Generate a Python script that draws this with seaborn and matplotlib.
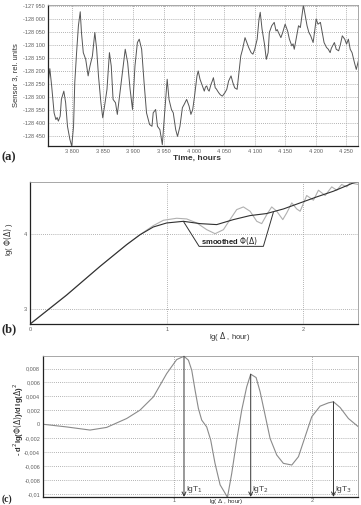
import matplotlib
matplotlib.use('Agg')
import matplotlib.pyplot as plt
import matplotlib.ticker as mticker
import seaborn as sns
import pandas as pd

# (a) sensor signal
hours = [3759, 3763, 3766, 3770, 3773, 3775, 3777, 3780, 3782, 3786, 3789, 3792, 3796, 3799,
         3802, 3804, 3807, 3810, 3813, 3815, 3818, 3822, 3826, 3829, 3833, 3837, 3840,
         3843, 3847, 3850, 3853, 3857, 3861, 3864, 3867, 3871, 3874, 3877, 3881, 3887,
         3891, 3895, 3899, 3903, 3907, 3910, 3914, 3918, 3922, 3927, 3931, 3933, 3937,
         3940, 3944, 3948, 3951, 3954, 3956, 3959, 3963, 3966, 3970, 3973, 3977, 3981,
         3984, 3988, 3992, 3995, 3998, 4001, 4005, 4007, 4010, 4013, 4015, 4017, 4019,
         4021, 4023, 4025, 4028, 4030, 4032, 4035, 4037, 4039, 4041, 4043, 4045, 4047,
         4049, 4051, 4054, 4057, 4061, 4064, 4067, 4071, 4074, 4077, 4080, 4084, 4087,
         4090, 4094, 4097, 4100, 4104, 4107, 4109, 4112, 4116, 4119, 4122, 4124, 4128,
         4132, 4135, 4137, 4139, 4143, 4146, 4150, 4154, 4157, 4161, 4163, 4165, 4168,
         4172, 4175, 4178, 4180, 4183, 4186, 4189, 4192, 4196, 4199, 4201, 4204, 4208,
         4211, 4214, 4218, 4221, 4224, 4226, 4228, 4231, 4234, 4238, 4241, 4244, 4248,
         4251, 4254, 4257, 4260, 4264, 4267, 4271]
sensor = [-128265, -128191, -128258, -128362, -128388, -128380, -128394, -128375, -128310,
          -128278, -128323, -128414, -128465, -128491, -128414, -128245, -128129, -128025,
          -127971, -128051, -128129, -128155, -128219, -128181, -128142, -128051, -128116,
          -128219, -128323, -128381, -128336, -128271, -128129, -128181, -128310, -128323,
          -128368, -128310, -128232, -128116, -128168, -128271, -128349, -128181, -128090,
          -128077, -128116, -128245, -128362, -128407, -128414, -128362, -128349, -128414,
          -128427, -128485, -128388, -128297, -128232, -128310, -128349, -128362, -128427,
          -128453, -128414, -128342, -128329, -128310, -128336, -128368, -128349, -128297,
          -128219, -128200, -128232, -128252, -128265, -128278, -128262, -128258, -128272,
          -128278, -128252, -128240, -128226, -128265, -128270, -128278, -128285, -128291,
          -128295, -128297, -128290, -128284, -128271, -128239, -128219, -128245, -128265,
          -128271, -128207, -128142, -128116, -128071, -128090, -128109, -128129, -128135,
          -128116, -128077, -127999, -127973, -128038, -128096, -128155, -128129, -128051,
          -128025, -128012, -128045, -128040, -128051, -128071, -128051, -128019, -128045,
          -128077, -128103, -128095, -128116, -128077, -128025, -128032, -127980, -127945,
          -127986, -128025, -128051, -128064, -128090, -128038, -127999, -128019, -128012,
          -128051, -128090, -128109, -128116, -128129, -128112, -128103, -128090, -128116,
          -128122, -128096, -128064, -128077, -128096, -128077, -128116, -128129, -128168,
          -128194, -128155]

# (b) lg(Phi(Delta)) raw and smoothed
lg_delta_raw = [0.0, 0.268, 0.512, 0.707, 0.805, 0.902, 0.976, 1.073, 1.146, 1.22, 1.293,
                1.354, 1.415, 1.463, 1.512, 1.561, 1.61, 1.659, 1.695, 1.732, 1.768, 1.805,
                1.849, 1.878, 1.915, 1.951, 1.976, 2.024, 2.073, 2.11, 2.159, 2.207, 2.244,
                2.28, 2.317, 2.341, 2.402]
lg_phi_raw = [2.794, 3.184, 3.565, 3.857, 3.991, 4.112, 4.184, 4.211, 4.202, 4.148, 4.058,
              4.004, 4.058, 4.193, 4.327, 4.363, 4.305, 4.170, 4.139, 4.260, 4.363, 4.305,
              4.193, 4.283, 4.417, 4.336, 4.305, 4.516, 4.453, 4.587, 4.516, 4.632, 4.587,
              4.664, 4.632, 4.686, 4.664]
lg_delta_sm = [0.0, 0.268, 0.512, 0.707, 0.805, 0.902, 1.0, 1.122, 1.244, 1.366, 1.488,
               1.61, 1.73, 1.854, 1.976, 2.098, 2.22, 2.366, 2.402]
lg_phi_sm = [2.79, 3.18, 3.565, 3.857, 3.99, 4.094, 4.148, 4.17, 4.139, 4.126, 4.193,
             4.247, 4.274, 4.336, 4.417, 4.498, 4.574, 4.686, 4.70]

# (c) second derivative
lg_delta_c = [0.055, 0.224, 0.393, 0.513, 0.658, 0.754, 0.851, 0.947, 1.019, 1.072, 1.104,
              1.128, 1.152, 1.176, 1.2, 1.236, 1.265, 1.296, 1.333, 1.369, 1.386, 1.417,
              1.453, 1.489, 1.525, 1.554, 1.593, 1.622, 1.658, 1.694, 1.742, 1.79, 1.851,
              1.899, 1.947, 1.995, 2.055, 2.116, 2.152, 2.2, 2.26, 2.333]
d2 = [0.0, -0.00038, -0.00083, -0.00045, 0.00083, 0.00203, 0.00394, 0.00728, 0.00929,
      0.00977, 0.0092, 0.00776, 0.0049, 0.00227, 0.0006, -0.00038, -0.00227, -0.0056,
      -0.0087, -0.0099, -0.0105, -0.00704, -0.00227, 0.00203, 0.00537, 0.00719, 0.00671,
      0.00466, 0.00132, -0.00203, -0.00441, -0.00561, -0.00585, -0.00465, -0.00179,
      0.00108, 0.0026, 0.00308, 0.00323, 0.00241, 0.00083, -0.00038]
lgT = [1.072, 1.554, 2.152]
lgT_peak = [0.00977, 0.00719, 0.00323]
lgT_labels = [r'lgT$_1$', r'lgT$_2$', r'lgT$_3$']
c_yticks = [0.008, 0.006, 0.004, 0.002, 0, -0.002, -0.004, -0.006, -0.008, -0.01]
c_yticklabels = ['0,008', '0,006', '0,004', '0,002', '0', '-0,002', '-0,004', '-0,006',
                 '-0,008', '-0,01']

sns.set_style('white')
plt.rcParams['font.family'] = ['Liberation Sans', 'DejaVu Sans']
plt.rcParams['mathtext.fontset'] = 'dejavusans'

fig = plt.figure(figsize=(3.61, 5.05), dpi=100)
ax_a = fig.add_axes([0.133, 0.711, 0.859, 0.279])
ax_b = fig.add_axes([0.083, 0.358, 0.909, 0.282])
ax_c = fig.add_axes([0.119, 0.016, 0.873, 0.279])

grid_kw = dict(color='#9a9a9a', linewidth=0.6, linestyle=(0, (1, 1.5)))
tick_gray = '#606060'


def frame(ax):
    for s in ['left', 'bottom']:
        ax.spines[s].set_color('#222222')
        ax.spines[s].set_linewidth(0.9)
    for s in ['top', 'right']:
        ax.spines[s].set_color('#999999')
        ax.spines[s].set_linewidth(0.6)
    ax.tick_params(length=0, labelcolor=tick_gray, labelsize=4, pad=2)
    ax.grid(True, **grid_kw)
    ax.set_axisbelow(True)


# (a)
sns.lineplot(x=hours, y=sensor, ax=ax_a, color='#555555', linewidth=0.7)
ax_a.set_xlim(3760, 4270)
ax_a.set_ylim(-128490, -127945)
ax_a.xaxis.set_major_locator(mticker.MultipleLocator(50))
ax_a.yaxis.set_major_locator(mticker.MultipleLocator(50))
sp = mticker.FuncFormatter(lambda v, p: f'{v:,.0f}'.replace(',', ' '))
ax_a.xaxis.set_major_formatter(sp)
ax_a.yaxis.set_major_formatter(sp)
frame(ax_a)
ax_a.set_xticks(list(range(3800, 4251, 50)))
ax_a.set_xlabel('Time, hours', fontsize=6, fontweight='bold', color='#333333')
ax_a.xaxis.set_label_coords(0.48, -0.06)
ax_a.set_ylabel('Sensor 3, rel. units', fontsize=5.5, color='#333333')
ax_a.yaxis.set_label_coords(-0.095, 0.5)

# (b)
sns.lineplot(x=lg_delta_raw, y=lg_phi_raw, ax=ax_b, color='#b0b0b0', linewidth=0.8)
sns.lineplot(x=lg_delta_sm, y=lg_phi_sm, ax=ax_b, color='#303030', linewidth=0.8)
ax_b.set_xlim(0, 2.4)
ax_b.set_ylim(2.79, 4.70)
ax_b.set_xticks([0, 1, 2])
ax_b.set_yticks([3, 4])
frame(ax_b)
ax_b.xaxis.set_minor_locator(mticker.MultipleLocator(0.25))
ax_b.tick_params(axis='x', which='minor', length=1.5, color='#666666', direction='in')
ax_b.set_xlabel(r'lg( $\Delta$ , hour)', fontsize=5.5, color='#333333')
ax_b.xaxis.set_label_coords(0.61, -0.04)
ax_b.set_ylabel(r'lg( $\Phi(\Delta)$ )', fontsize=5.5, color='#333333')
ax_b.yaxis.set_label_coords(-0.045, 0.6)
ax_b.plot([1.122, 1.237, 1.707, 1.78], [4.17, 3.834, 3.834, 4.29], color='#333333',
          linewidth=0.7)
ax_b.text(1.463, 3.9, r'smoothed $\Phi(\Delta)$', fontsize=5.5, fontweight='bold',
          ha='center', va='center', color='#222222')

# (c)
sns.lineplot(x=lg_delta_c, y=d2, ax=ax_c, color='#8a8a8a', linewidth=0.8)
ax_c.set_xlim(0.053, 2.33)
ax_c.set_ylim(-0.01043, 0.0098)
ax_c.set_xticks([1, 2])
ax_c.set_yticks(c_yticks)
ax_c.set_yticklabels(c_yticklabels)
frame(ax_c)
ax_c.tick_params(axis='x', pad=0.5)
for xv, yv, lab in zip(lgT, lgT_peak, lgT_labels):
    ax_c.annotate('', xy=(xv, -0.01043), xytext=(xv, yv),
                  arrowprops=dict(arrowstyle='->', color='#333333', lw=0.7,
                                  shrinkA=0, shrinkB=0, mutation_scale=7))
    ax_c.text(xv + 0.012, -0.0101, lab, fontsize=6, color='#444444', ha='left', va='bottom')
ax_c.set_xlabel(r'lg( $\Delta$ , hour)', fontsize=4.5, color='#333333')
ax_c.xaxis.set_label_coords(0.58, 0.0)
ax_c.set_ylabel(r'- d$^2$lg($\Phi(\Delta)$)/d lg($\Delta$)$^2$', fontsize=5.5,
                fontweight='bold', color='#333333')
ax_c.yaxis.set_label_coords(-0.055, 0.55)

for y, lab in [(0.689, '(a)'), (0.347, '(b)'), (0.002, '(c)')]:
    fig.text(0.005, y, lab, fontsize=9 if lab != '(c)' else 7, fontweight='bold',
             fontfamily='Liberation Serif', va='center' if lab != '(c)' else 'bottom',
             ha='left')

fig.savefig('out.png', dpi=100)
